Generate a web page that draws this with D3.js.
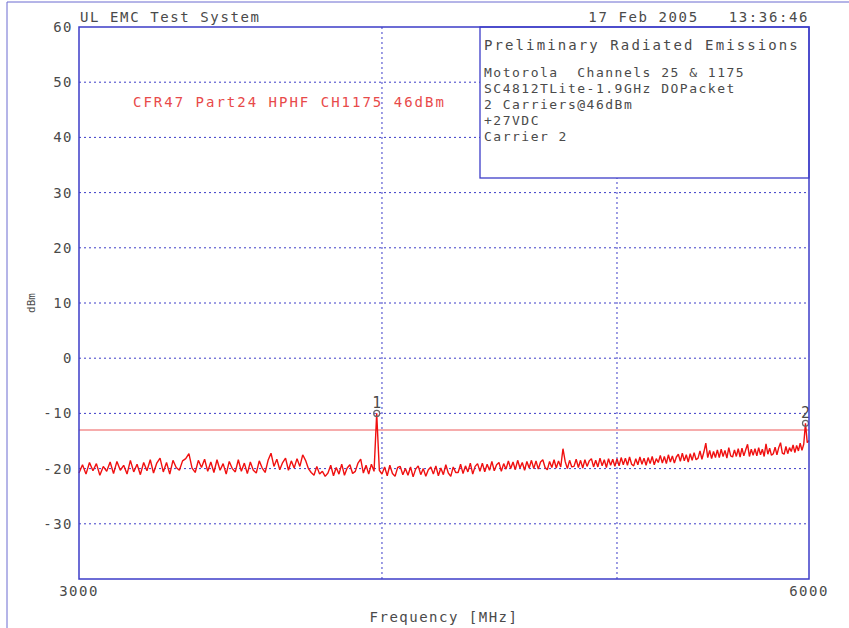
<!DOCTYPE html>
<html>
<head>
<meta charset="utf-8">
<script src="https://cdn.jsdelivr.net/npm/d3@7"></script>
<style>
  body { margin: 0; background: #fff; }
  text { font-family: "DejaVu Sans Mono", monospace; fill: #4a4a4a; }
</style>
</head>
<body>
<div id="chart"></div>
<script>
// sweep settings
const startFreq = 3000, stopFreq = 6000, stepFreq = 10;
const yTicks = [-30, -20, -10, 0, 10, 20, 30, 40, 50, 60];
const xGrid = [4000, 5000];
const xLabels = [3000, 6000];
const limitLevel = -13;

// trace levels (dBm), one per 10 MHz step
const levels = [
  -20.8,-19.3,-21.0,-18.9,-20.4,-19.1,-21.2,-19.6,-20.5,-18.8,
  -20.9,-18.7,-20.3,-19.4,-21.0,-18.5,-20.6,-19.2,-21.1,-18.9,
  -20.4,-18.4,-20.8,-19.0,-18.1,-20.6,-18.9,-21.0,-18.5,-19.8,
  -20.3,-18.6,-18.2,-17.3,-19.9,-20.7,-18.5,-19.8,-18.3,-20.5,
  -18.8,-20.7,-18.4,-20.3,-19.1,-21.0,-18.7,-20.0,-20.6,-18.4,
  -20.5,-19.0,-20.9,-18.8,-20.3,-20.8,-18.6,-19.9,-20.7,-18.5,
  -17.2,-19.6,-18.3,-20.2,-18.9,-18.1,-20.3,-18.6,-19.9,-18.2,
  -19.6,-17.5,-18.5,-20.0,-20.7,-21.2,-19.6,-21.0,-20.5,-21.4,
  -20.8,-19.4,-21.3,-19.8,-21.0,-19.2,-21.2,-19.9,-19.3,-20.9,
  -20.5,-19.0,-18.3,-20.8,-19.4,-21.0,-19.2,-20.5,-10.0,-20.3,
  -21.0,-19.7,-21.3,-19.4,-20.9,-21.4,-19.8,-19.6,-21.1,-20.0,
  -21.2,-19.7,-21.5,-20.1,-19.5,-21.1,-20.0,-21.4,-20.2,-19.7,
  -21.0,-19.5,-21.3,-19.9,-21.1,-19.3,-20.8,-21.4,-19.7,-20.7,
  -20.7,-19.2,-20.9,-19.5,-20.6,-19.0,-21.0,-19.6,-19.1,-20.5,
  -19.0,-20.6,-19.2,-20.3,-18.7,-20.4,-19.3,-18.9,-20.5,-19.1,
  -20.1,-18.6,-20.0,-18.8,-20.2,-18.5,-19.9,-18.9,-20.3,-18.7,
  -19.9,-18.5,-20.0,-18.6,-20.1,-18.8,-18.4,-19.8,-20.2,-18.7,
  -19.8,-18.4,-19.9,-18.6,-19.7,-16.4,-18.7,-20.0,-18.5,-19.7,
  -19.6,-18.3,-19.8,-18.5,-19.9,-18.4,-19.6,-18.6,-18.2,-19.7,
  -18.5,-19.7,-18.1,-19.5,-18.4,-19.8,-18.2,-19.4,-18.3,-19.6,
  -18.2,-19.5,-18.0,-19.3,-18.1,-19.4,-17.9,-19.2,-19.5,-18.2,
  -19.3,-17.9,-19.2,-18.1,-19.4,-18.0,-19.1,-17.8,-19.3,-18.2,
  -18.9,-17.6,-19.0,-17.8,-19.1,-17.5,-18.8,-17.7,-19.0,-17.9,
  -17.4,-18.7,-17.2,-18.6,-17.5,-18.8,-17.3,-18.5,-17.1,-18.4,
  -18.1,-16.8,-18.3,-17.0,-15.4,-18.0,-16.7,-18.2,-16.9,-18.0,
  -16.6,-18.0,-16.5,-17.8,-16.7,-18.1,-16.2,-17.7,-17.9,-16.6,
  -17.8,-16.4,-17.9,-16.3,-17.7,-16.6,-15.6,-17.8,-16.5,-17.6,
  -16.4,-17.7,-16.2,-17.5,-16.5,-17.8,-15.5,-17.4,-16.3,-17.6,
  -17.3,-16.1,-17.5,-16.2,-15.3,-17.2,-17.4,-16.0,-17.3,-16.2,
  -16.9,-15.7,-17.1,-15.8,-16.8,-15.4,-16.7,-15.6,-11.8,-15.3,
  -14.9
];

const markerIds = ["1", "2"];
const markerFreqs = [3980, 5980];
const markerLevels = [-10.0, -11.8];

const legendTitle = "Preliminary Radiated Emissions";
const legendLines = ["Motorola  Channels 25 & 1175", "SC4812TLite-1.9GHz DOPacket", "2 Carriers@46dBm", "+27VDC", "Carrier 2"];

let width = 849, height = 628;
let margin = {top: 27, right: 40, bottom: 49, left: 79};

let svg = d3.select("#chart").append("svg")
    .attr("width", width)
    .attr("height", height);

let x = d3.scaleLog()
    .domain([startFreq, stopFreq])
    .range([margin.left, width - margin.right]);
let y = d3.scaleLinear()
    .domain([-40, 60])
    .range([height - margin.bottom, margin.top]);

const blue = "#3c3cc8";

// outer frame of the printout
svg.append("line").attr("x1", 7).attr("x2", 7).attr("y1", 2).attr("y2", height)
    .attr("stroke", "#6a6ad0").attr("stroke-width", 1);
svg.append("line").attr("x1", 7).attr("x2", width).attr("y1", 2).attr("y2", 2)
    .attr("stroke", "#6a6ad0").attr("stroke-width", 1);

// grid
svg.append("g").selectAll("line")
    .data(yTicks.filter(d => d < 60))
    .enter().append("line")
    .attr("x1", x.range()[0]).attr("x2", x.range()[1])
    .attr("y1", d => y(d)).attr("y2", d => y(d))
    .attr("stroke", blue).attr("stroke-width", 1)
    .attr("stroke-dasharray", "2,3");
svg.append("g").selectAll("line")
    .data(xGrid)
    .enter().append("line")
    .attr("x1", d => x(d)).attr("x2", d => x(d))
    .attr("y1", y.range()[1]).attr("y2", y.range()[0])
    .attr("stroke", blue).attr("stroke-width", 1)
    .attr("stroke-dasharray", "2,3");

// limit line
svg.append("line")
    .attr("x1", x.range()[0]).attr("x2", x.range()[1])
    .attr("y1", y(limitLevel)).attr("y2", y(limitLevel))
    .attr("stroke", "#f39090").attr("stroke-width", 1.5);

// trace
let trace = levels.map((v, i) => ({f: startFreq + i * stepFreq, v: v}));
svg.append("path")
    .datum(trace)
    .attr("fill", "none")
    .attr("stroke", "#f01010")
    .attr("stroke-width", 1.4)
    .attr("stroke-linejoin", "bevel")
    .attr("d", d3.line().x(d => x(d.f)).y(d => y(d.v)));

// markers
markerFreqs.forEach((f, i) => {
    svg.append("circle")
        .attr("cx", x(f)).attr("cy", y(markerLevels[i])).attr("r", 3)
        .attr("fill", "none").attr("stroke", "#666").attr("stroke-width", 1.2);
    svg.append("text")
        .attr("x", x(f)).attr("y", y(markerLevels[i]) - 5)
        .attr("text-anchor", "middle")
        .style("font-size", "15px")
        .text(markerIds[i]);
});

// legend box (covers grid)
let lb = {x0: 480, y0: margin.top, x1: x.range()[1], y1: 178};
svg.append("rect")
    .attr("x", lb.x0).attr("y", lb.y0)
    .attr("width", lb.x1 - lb.x0).attr("height", lb.y1 - lb.y0)
    .attr("fill", "#fff").attr("stroke", blue).attr("stroke-width", 1.3);
svg.append("text")
    .attr("x", lb.x0 + 4).attr("y", lb.y0 + 23)
    .style("font-size", "14px").style("letter-spacing", "2.1px")
    .text(legendTitle);
svg.append("g").selectAll("text")
    .data(legendLines)
    .enter().append("text")
    .attr("x", lb.x0 + 4)
    .attr("y", (d, i) => lb.y0 + 50 + i * 16)
    .style("font-size", "13px").style("letter-spacing", "1.5px")
    .style("white-space", "pre")
    .text(d => d);

// plot frame
svg.append("rect")
    .attr("x", x.range()[0]).attr("y", y.range()[1])
    .attr("width", x.range()[1] - x.range()[0])
    .attr("height", y.range()[0] - y.range()[1])
    .attr("fill", "none").attr("stroke", blue).attr("stroke-width", 1.5);

// y tick labels
svg.append("g").selectAll("text")
    .data(yTicks)
    .enter().append("text")
    .attr("x", 73)
    .attr("y", d => y(d) + 5)
    .attr("text-anchor", "end")
    .style("font-size", "14px").style("letter-spacing", "1.5px")
    .text(d => d);

// x tick labels
svg.append("g").selectAll("text")
    .data(xLabels)
    .enter().append("text")
    .attr("x", d => x(d))
    .attr("y", 596)
    .attr("text-anchor", "middle")
    .style("font-size", "14px").style("letter-spacing", "1.5px")
    .text(d => d);

// axis titles
svg.append("text")
    .attr("x", (x.range()[0] + x.range()[1]) / 2)
    .attr("y", 622)
    .attr("text-anchor", "middle")
    .style("font-size", "14px").style("letter-spacing", "1.5px")
    .text("Frequency [MHz]");
svg.append("text")
    .attr("transform", "translate(35," + y(10) + ") rotate(-90)")
    .attr("text-anchor", "middle")
    .style("font-size", "11px")
    .text("dBm");

// header
svg.append("text")
    .attr("x", 80).attr("y", 22)
    .style("font-size", "14px").style("letter-spacing", "1.6px")
    .text("UL EMC Test System");
svg.append("text")
    .attr("x", 809).attr("y", 22)
    .attr("text-anchor", "end")
    .style("font-size", "14px").style("letter-spacing", "1.6px")
    .style("white-space", "pre")
    .text("17 Feb 2005   13:36:46");

// red caption
svg.append("text")
    .attr("x", 133).attr("y", 107)
    .style("font-size", "14px").style("letter-spacing", "2px")
    .style("fill", "#e84a4a")
    .text("CFR47 Part24 HPHF CH1175 46dBm");
</script>
</body>
</html>
